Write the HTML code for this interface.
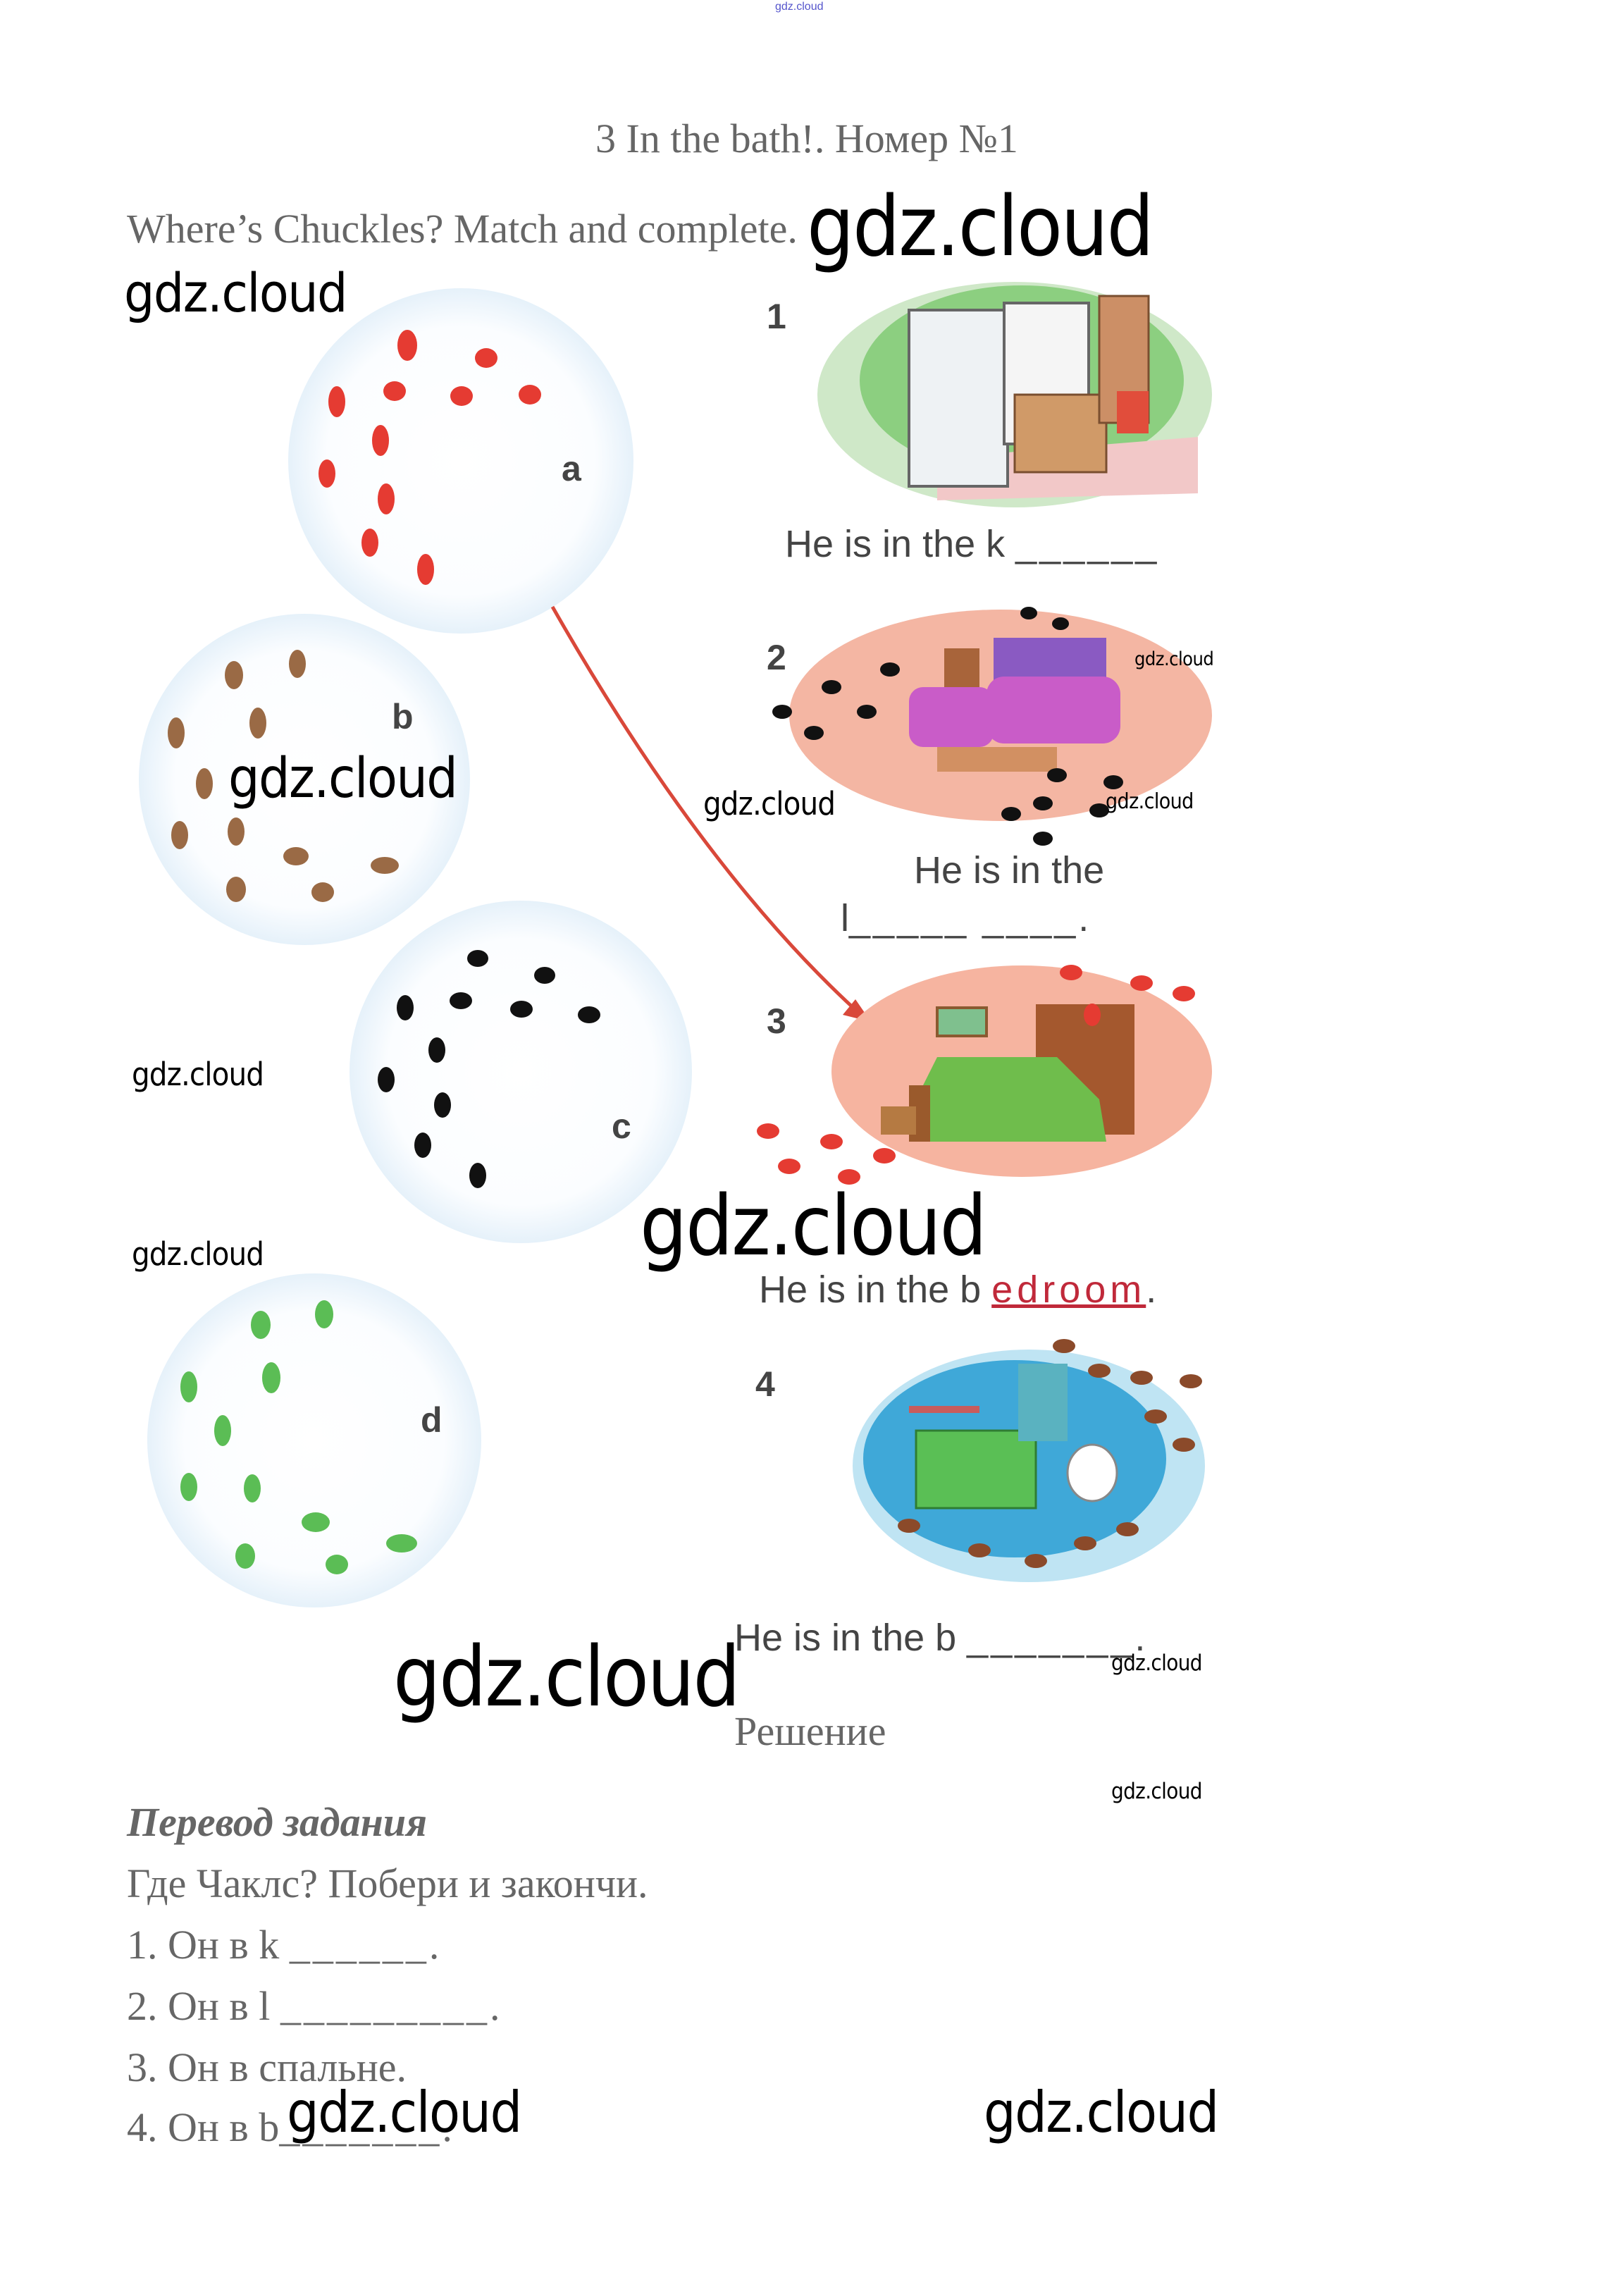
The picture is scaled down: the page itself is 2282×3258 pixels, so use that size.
<!DOCTYPE html>
<html><head><meta charset="utf-8"><style>
body{margin:0;background:#fff}
#p{position:relative;width:2282px;height:3258px;overflow:hidden;background:#fff}
.t{position:absolute;white-space:nowrap;line-height:1}
.s{font-family:"Liberation Serif",serif;color:#666}
.w{font-family:"DejaVu Sans Condensed","Liberation Sans",sans-serif;color:#000;letter-spacing:-0.02em}
.h{font-family:"Liberation Sans",sans-serif;color:#444}
.c{position:absolute;border-radius:50%;background:radial-gradient(circle,#fff 0%,#fbfdff 55%,#d9eaf7 80%,#a9cfec 96%,#c8e0f2 100%)}
</style></head><body><div id="p">

<div class="t" style="left:1100px;top:2px;font-size:16px;color:#55c;font-family:'Liberation Sans',sans-serif">gdz.cloud</div>
<div class="t s" style="left:845px;top:168px;font-size:58px">3 In the bath!. Номер №1</div>
<div class="t s" style="left:180px;top:296px;font-size:58px">Where’s Chuckles? Match and complete.</div>
<div class="t w" style="left:1145px;top:262px;font-size:118px">gdz.cloud</div>
<div class="t w" style="left:176px;top:378px;font-size:76px">gdz.cloud</div>

<div class="c" style="left:409px;top:409px;width:490px;height:490px"></div>
<div class="c" style="left:197px;top:871px;width:470px;height:470px"></div>
<div class="c" style="left:496px;top:1278px;width:486px;height:486px"></div>
<div class="c" style="left:209px;top:1807px;width:474px;height:474px"></div>
<div class="t h" style="left:797px;top:640px;font-size:50px;font-weight:bold">a</div>
<div class="t h" style="left:556px;top:992px;font-size:50px;font-weight:bold">b</div>
<div class="t h" style="left:868px;top:1573px;font-size:50px;font-weight:bold">c</div>
<div class="t h" style="left:597px;top:1990px;font-size:50px;font-weight:bold">d</div>

<svg style="position:absolute;left:0;top:0" width="2282" height="3258">
<g fill="#e53b32">
<ellipse cx="578" cy="490" rx="14" ry="22"/><ellipse cx="690" cy="508" rx="16" ry="14"/><ellipse cx="478" cy="570" rx="12" ry="22"/><ellipse cx="560" cy="555" rx="16" ry="14"/><ellipse cx="655" cy="562" rx="16" ry="14"/><ellipse cx="752" cy="560" rx="16" ry="14"/><ellipse cx="540" cy="625" rx="12" ry="22"/><ellipse cx="464" cy="672" rx="12" ry="20"/><ellipse cx="548" cy="708" rx="12" ry="22"/><ellipse cx="525" cy="770" rx="12" ry="20"/><ellipse cx="604" cy="808" rx="12" ry="22"/>
</g>
<g fill="#9a6a45">
<ellipse cx="332" cy="958" rx="13" ry="20"/><ellipse cx="422" cy="942" rx="12" ry="20"/><ellipse cx="250" cy="1040" rx="12" ry="22"/><ellipse cx="366" cy="1026" rx="12" ry="22"/><ellipse cx="290" cy="1112" rx="12" ry="22"/><ellipse cx="255" cy="1185" rx="12" ry="20"/><ellipse cx="335" cy="1180" rx="12" ry="20"/><ellipse cx="420" cy="1215" rx="18" ry="13"/><ellipse cx="335" cy="1262" rx="14" ry="18"/><ellipse cx="458" cy="1266" rx="16" ry="14"/><ellipse cx="546" cy="1228" rx="20" ry="12"/>
</g>
<g fill="#111">
<ellipse cx="678" cy="1360" rx="15" ry="12"/><ellipse cx="773" cy="1384" rx="15" ry="12"/><ellipse cx="575" cy="1430" rx="12" ry="18"/><ellipse cx="654" cy="1420" rx="16" ry="12"/><ellipse cx="740" cy="1432" rx="16" ry="12"/><ellipse cx="836" cy="1440" rx="16" ry="12"/><ellipse cx="620" cy="1490" rx="12" ry="18"/><ellipse cx="548" cy="1532" rx="12" ry="18"/><ellipse cx="628" cy="1568" rx="12" ry="18"/><ellipse cx="600" cy="1625" rx="12" ry="18"/><ellipse cx="678" cy="1668" rx="12" ry="18"/>
</g>
<g fill="#5bbd55">
<ellipse cx="370" cy="1880" rx="14" ry="20"/><ellipse cx="460" cy="1865" rx="13" ry="20"/><ellipse cx="268" cy="1968" rx="12" ry="22"/><ellipse cx="385" cy="1955" rx="13" ry="22"/><ellipse cx="316" cy="2030" rx="12" ry="22"/><ellipse cx="268" cy="2110" rx="12" ry="20"/><ellipse cx="358" cy="2112" rx="12" ry="20"/><ellipse cx="448" cy="2160" rx="20" ry="14"/><ellipse cx="348" cy="2208" rx="14" ry="18"/><ellipse cx="478" cy="2220" rx="16" ry="14"/><ellipse cx="570" cy="2190" rx="22" ry="13"/>
</g>
<path d="M784 861 Q1000 1240 1224 1442" fill="none" stroke="#d9483a" stroke-width="5"/>
<polygon points="1236,1450 1196,1440 1214,1418" fill="#d9483a"/>

<ellipse cx="1440" cy="560" rx="280" ry="160" fill="#cfe8c8"/>
<ellipse cx="1450" cy="540" rx="230" ry="135" fill="#8ccf80"/>
<polygon points="1330,650 1700,620 1700,700 1330,710" fill="#f2c8c8"/>
<rect x="1290" y="440" width="140" height="250" fill="#eef2f4" stroke="#666" stroke-width="4"/>
<rect x="1425" y="430" width="120" height="200" fill="#f5f5f5" stroke="#666" stroke-width="4"/>
<rect x="1440" y="560" width="130" height="110" fill="#d09a68" stroke="#7a4f30" stroke-width="3"/>
<rect x="1560" y="420" width="70" height="180" fill="#cc8f66" stroke="#7a4f30" stroke-width="3"/>
<rect x="1585" y="555" width="45" height="60" fill="#e14d3b"/>
<ellipse cx="1420" cy="1015" rx="300" ry="150" fill="#f4b6a3"/>
<rect x="1410" y="905" width="160" height="120" fill="#8a5ac2"/>
<rect x="1340" y="920" width="50" height="60" fill="#a8643a"/>
<rect x="1290" y="975" width="120" height="85" rx="20" fill="#c95cc8"/>
<rect x="1400" y="960" width="190" height="95" rx="25" fill="#c95cc8"/>
<rect x="1330" y="1060" width="170" height="35" fill="#d29062"/>
<g fill="#111"><ellipse cx="1460" cy="870" rx="12" ry="9"/><ellipse cx="1505" cy="885" rx="12" ry="9"/><ellipse cx="1110" cy="1010" rx="14" ry="10"/><ellipse cx="1180" cy="975" rx="14" ry="10"/><ellipse cx="1155" cy="1040" rx="14" ry="10"/><ellipse cx="1230" cy="1010" rx="14" ry="10"/><ellipse cx="1263" cy="950" rx="14" ry="10"/><ellipse cx="1435" cy="1155" rx="14" ry="10"/><ellipse cx="1480" cy="1140" rx="14" ry="10"/><ellipse cx="1500" cy="1100" rx="14" ry="10"/><ellipse cx="1480" cy="1190" rx="14" ry="10"/><ellipse cx="1580" cy="1110" rx="14" ry="10"/><ellipse cx="1560" cy="1150" rx="14" ry="10"/></g>
<ellipse cx="1450" cy="1520" rx="270" ry="150" fill="#f6b4a0"/>
<rect x="1470" y="1425" width="140" height="185" fill="#a4582e"/>
<rect x="1330" y="1430" width="70" height="40" fill="#7fc08e" stroke="#8a5a30" stroke-width="4"/>
<path d="M1300 1560 L1330 1500 L1500 1500 L1560 1560 L1570 1620 L1310 1620 Z" fill="#6fbd4c"/>
<rect x="1290" y="1540" width="30" height="80" fill="#9a5a2c"/>
<rect x="1250" y="1570" width="50" height="40" fill="#b57a42"/>
<g fill="#e53b32"><ellipse cx="1090" cy="1605" rx="16" ry="11"/><ellipse cx="1120" cy="1655" rx="16" ry="11"/><ellipse cx="1180" cy="1620" rx="16" ry="11"/><ellipse cx="1205" cy="1670" rx="16" ry="11"/><ellipse cx="1255" cy="1640" rx="16" ry="11"/><ellipse cx="1520" cy="1380" rx="16" ry="11"/><ellipse cx="1620" cy="1395" rx="16" ry="11"/><ellipse cx="1680" cy="1410" rx="16" ry="11"/><ellipse cx="1550" cy="1440" rx="12" ry="16"/></g>
<ellipse cx="1460" cy="2080" rx="250" ry="165" fill="#bfe4f3"/>
<ellipse cx="1440" cy="2070" rx="215" ry="140" fill="#3fa8d8"/>
<rect x="1300" y="2030" width="170" height="110" fill="#5abf55" stroke="#2f7d33" stroke-width="3"/>
<rect x="1445" y="1935" width="70" height="110" fill="#5ab2c0"/>
<ellipse cx="1550" cy="2090" rx="35" ry="40" fill="#fff" stroke="#888" stroke-width="3"/>
<rect x="1290" y="1995" width="100" height="10" fill="#c95c5c"/>
<g fill="#8b4a2a"><ellipse cx="1510" cy="1910" rx="16" ry="10"/><ellipse cx="1560" cy="1945" rx="16" ry="10"/><ellipse cx="1620" cy="1955" rx="16" ry="10"/><ellipse cx="1690" cy="1960" rx="16" ry="10"/><ellipse cx="1640" cy="2010" rx="16" ry="10"/><ellipse cx="1680" cy="2050" rx="16" ry="10"/><ellipse cx="1600" cy="2170" rx="16" ry="10"/><ellipse cx="1540" cy="2190" rx="16" ry="10"/><ellipse cx="1470" cy="2215" rx="16" ry="10"/><ellipse cx="1390" cy="2200" rx="16" ry="10"/><ellipse cx="1290" cy="2165" rx="16" ry="10"/></g>
</svg>

<div class="t h" style="left:1088px;top:424px;font-size:50px;font-weight:bold">1</div>
<div class="t h" style="left:1088px;top:908px;font-size:50px;font-weight:bold">2</div>
<div class="t h" style="left:1088px;top:1424px;font-size:50px;font-weight:bold">3</div>
<div class="t h" style="left:1072px;top:1939px;font-size:50px;font-weight:bold">4</div>

<div class="t h" style="left:1114px;top:745px;font-size:54px">He is in the k <span style="letter-spacing:4px">______</span></div>
<div class="t h" style="left:1297px;top:1208px;font-size:54px">He is in the</div>
<div class="t h" style="left:1193px;top:1276px;font-size:54px">l<span style="letter-spacing:4px">_____ ____</span>.</div>
<div class="t h" style="left:1077px;top:1803px;font-size:54px">He is in the b <span style="color:#c0293a;text-decoration:underline;letter-spacing:6px">edroom</span>.</div>
<div class="t h" style="left:1042px;top:2297px;font-size:54px">He is in the b <span style="letter-spacing:4px">_______</span>.</div>

<div class="t w" style="left:1610px;top:922px;font-size:27px">gdz.cloud</div>
<div class="t w" style="left:998px;top:1118px;font-size:45px">gdz.cloud</div>
<div class="t w" style="left:1569px;top:1123px;font-size:30px">gdz.cloud</div>
<div class="t w" style="left:324px;top:1066px;font-size:78px">gdz.cloud</div>
<div class="t w" style="left:187px;top:1502px;font-size:45px">gdz.cloud</div>
<div class="t w" style="left:187px;top:1757px;font-size:45px">gdz.cloud</div>
<div class="t w" style="left:908px;top:1680px;font-size:118px">gdz.cloud</div>
<div class="t w" style="left:558px;top:2320px;font-size:118px">gdz.cloud</div>
<div class="t w" style="left:1577px;top:2345px;font-size:31px">gdz.cloud</div>
<div class="t s" style="left:1042px;top:2428px;font-size:58px">Решение</div>
<div class="t w" style="left:1577px;top:2527px;font-size:31px">gdz.cloud</div>

<div class="t s" style="left:180px;top:2557px;font-size:58px;font-weight:bold;font-style:italic">Перевод задания</div>
<div class="t s" style="left:180px;top:2644px;font-size:58px">Где Чаклс? Побери и закончи.</div>
<div class="t s" style="left:180px;top:2731px;font-size:58px">1. Он в k <span style="letter-spacing:4px">______</span>.</div>
<div class="t s" style="left:180px;top:2818px;font-size:58px">2. Он в l <span style="letter-spacing:4px">_________</span>.</div>
<div class="t s" style="left:180px;top:2905px;font-size:58px">3. Он в спальне.</div>
<div class="t s" style="left:180px;top:2990px;font-size:58px">4. Он в b<span style="letter-spacing:4px">_______</span>.</div>
<div class="t w" style="left:407px;top:2958px;font-size:80px">gdz.cloud</div>
<div class="t w" style="left:1396px;top:2958px;font-size:80px">gdz.cloud</div>

</div></body></html>
